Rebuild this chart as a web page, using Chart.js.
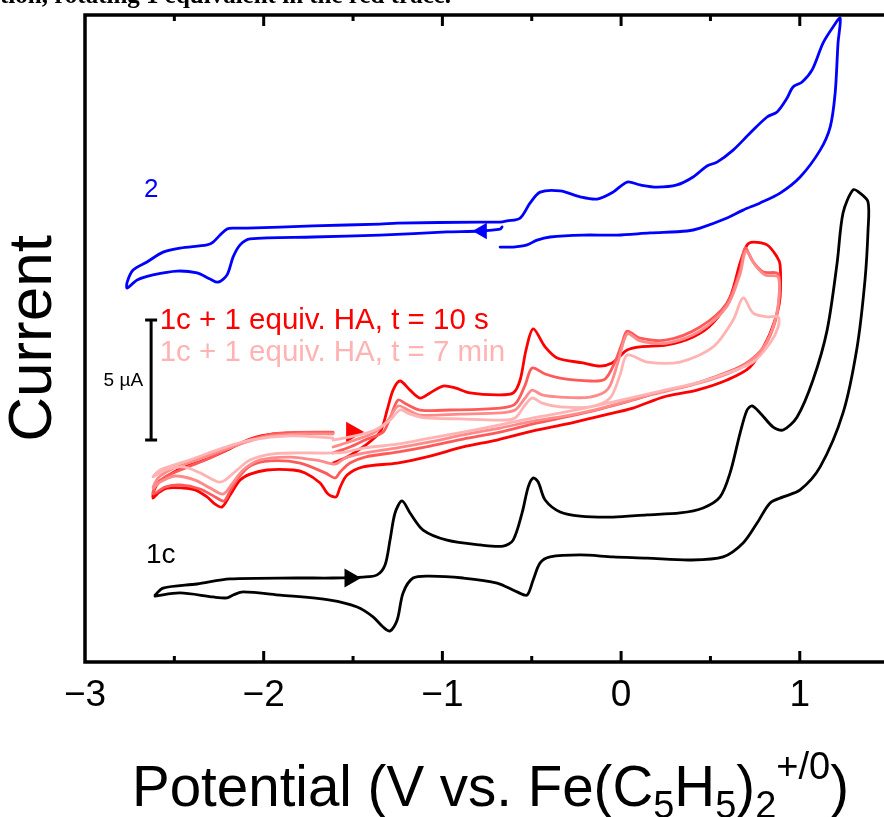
<!DOCTYPE html>
<html><head><meta charset="utf-8">
<script src="https://cdn.jsdelivr.net/npm/chart.js@4.4.1/dist/chart.umd.min.js"></script>
<style>
html,body{margin:0;padding:0;background:#fff;overflow:hidden;width:884px;height:817px;}
#wrap{position:absolute;left:0;top:0;width:920px;height:817px;}
#caption{position:absolute;left:0;top:-17px;font:bold 25px "Liberation Serif","Times New Roman",serif;line-height:24px;white-space:nowrap;color:#000;}
#xtitle{position:absolute;left:132px;top:759px;font:56.5px "Liberation Sans",Arial,sans-serif;line-height:56px;white-space:nowrap;color:#000;}
.sb{font-size:38px;position:relative;top:12px;line-height:0;}
.sp{font-size:38px;position:relative;top:-27px;line-height:0;}
</style></head>
<body>
<div id="wrap"><canvas id="c" width="920" height="817"></canvas></div>
<div id="caption">tion, rotating 1 equivalent in the red trace.</div>
<div id="xtitle">Potential (V vs. Fe(C<span class="sb">5</span>H<span class="sb">5</span>)<span class="sb">2</span><span class="sp">+/0</span>)</div>
<script>
// x: potential (V vs Fc+/0), y: current (µA, arbitrary offset per trace)
const xTickValues = [-3, -2, -1, 0, 1];
const xTickLabels = ["\u22123", "\u22122", "\u22121", "0", "1"];

const compound2 = [
[-0.666,18.13],[-0.677,18.04],[-0.789,17.96],[-0.974,17.92],[-1.349,17.79],[-1.724,17.71],[-2.076,17.63],[-2.132,17.38],[-2.171,16.88],[-2.205,16.13],[-2.255,15.83],[-2.300,15.96],[-2.373,16.21],[-2.485,16.29],[-2.619,16.13],[-2.708,15.92],[-2.764,15.58],[-2.764,15.83],[-2.731,16.33],[-2.653,16.67],[-2.563,17.08],[-2.468,17.25],[-2.317,17.38],[-2.283,17.50],[-2.244,17.79],[-2.205,18.04],[-2.171,18.08],[-2.093,18.08],[-1.724,18.17],[-1.349,18.25],[-1.253,18.29],[-0.789,18.33],[-0.677,18.33],[-0.638,18.38],[-0.565,18.50],[-0.509,19.13],[-0.453,19.58],[-0.341,19.63],[-0.229,19.38],[-0.134,19.29],[-0.045,19.58],[0.034,20.00],[0.106,19.88],[0.201,19.79],[0.313,19.88],[0.403,20.21],[0.481,20.67],[0.537,20.83],[0.627,21.33],[0.722,22.04],[0.817,22.71],[0.873,22.92],[0.929,23.50],[0.962,23.96],[1.013,24.17],[1.069,24.67],[1.130,25.79],[1.186,26.46],[1.226,26.83],[1.214,25.79],[1.198,23.71],[1.170,22.29],[1.114,21.33],[1.002,20.21],[0.890,19.54],[0.778,19.13],[0.683,18.83],[0.593,18.50],[0.442,18.08],[0.369,17.96],[0.162,17.88],[-0.022,17.79],[-0.213,17.79],[-0.397,17.71],[-0.470,17.58],[-0.526,17.38],[-0.604,17.29],[-0.677,17.29]
];

const compound1c = [
[-2.608,2.79],[-2.563,3.08],[-2.373,3.25],[-2.188,3.46],[-1.813,3.50],[-1.612,3.50],[-1.444,3.54],[-1.365,3.63],[-1.321,4.04],[-1.293,5.08],[-1.265,6.21],[-1.226,6.71],[-1.181,6.21],[-1.108,5.50],[-0.974,5.08],[-0.789,4.88],[-0.660,4.83],[-0.604,5.08],[-0.554,6.21],[-0.520,7.29],[-0.492,7.67],[-0.464,7.50],[-0.425,6.75],[-0.341,6.25],[-0.229,6.08],[-0.045,6.04],[0.145,6.13],[0.330,6.21],[0.459,6.42],[0.554,6.88],[0.610,7.88],[0.666,9.54],[0.705,10.50],[0.733,10.67],[0.778,10.38],[0.851,9.79],[0.907,9.67],[0.985,10.21],[1.074,11.75],[1.153,13.83],[1.209,16.63],[1.242,18.71],[1.298,19.67],[1.337,19.54],[1.382,19.17],[1.382,18.00],[1.365,15.92],[1.321,13.13],[1.242,10.38],[1.114,8.13],[1.002,7.17],[0.907,6.88],[0.834,6.63],[0.761,5.79],[0.683,4.96],[0.571,4.38],[0.386,4.25],[0.145,4.33],[-0.045,4.38],[-0.229,4.46],[-0.397,4.38],[-0.453,4.13],[-0.492,3.42],[-0.526,2.79],[-0.582,2.92],[-0.694,3.29],[-0.884,3.50],[-1.069,3.58],[-1.164,3.50],[-1.220,2.88],[-1.253,1.75],[-1.293,1.29],[-1.332,1.46],[-1.388,1.88],[-1.477,2.29],[-1.628,2.58],[-1.908,2.79],[-2.115,2.92],[-2.171,2.79],[-2.205,2.67],[-2.283,2.71],[-2.468,2.88],[-2.608,2.75]
];

// 1c + 1 equiv. HA, t = 10 s
const acid10s = [
[-1.612,8.29],[-1.533,8.54],[-1.444,8.96],[-1.349,9.58],[-1.309,10.50],[-1.276,11.33],[-1.237,11.71],[-1.181,11.33],[-1.125,11.00],[-1.069,11.21],[-0.996,11.50],[-0.929,11.42],[-0.845,11.21],[-0.694,11.13],[-0.604,11.21],[-0.565,11.75],[-0.532,13.00],[-0.492,13.88],[-0.425,13.13],[-0.358,12.67],[-0.213,12.46],[-0.118,12.33],[-0.050,12.46],[-0.006,12.75],[0.034,13.00],[0.106,13.13],[0.257,13.21],[0.403,13.54],[0.515,14.13],[0.610,15.21],[0.666,16.63],[0.705,17.38],[0.739,17.50],[0.817,17.38],[0.873,16.88],[0.890,16.54],[0.890,15.21],[0.873,14.54],[0.817,13.42],[0.722,12.29],[0.593,11.75],[0.425,11.33],[0.235,11.04],[0.067,10.58],[-0.118,10.25],[-0.302,9.92],[-0.492,9.63],[-0.694,9.25],[-0.884,8.96],[-1.069,8.58],[-1.253,8.29],[-1.444,8.13],[-1.533,7.79],[-1.572,7.29],[-1.595,6.88],[-1.640,7.00],[-1.684,7.46],[-1.768,7.88],[-1.835,8.00],[-1.981,8.00],[-2.076,7.83],[-2.132,7.58],[-2.188,6.96],[-2.233,6.46],[-2.272,6.58],[-2.317,6.88],[-2.384,7.17],[-2.451,7.25],[-2.541,7.25],[-2.591,7.04],[-2.619,6.83],[-2.613,7.17],[-2.580,7.54],[-2.524,7.83],[-2.457,8.08],[-2.317,8.46],[-2.205,8.83],[-2.076,9.29],[-1.947,9.50],[-1.796,9.54],[-1.612,9.54]
];
// intermediate scans
const acidScan2 = [
[-1.612,8.71],[-1.517,8.96],[-1.433,9.25],[-1.332,9.58],[-1.293,10.17],[-1.248,10.92],[-1.203,10.75],[-1.125,10.50],[-0.957,10.50],[-0.677,10.58],[-0.593,10.75],[-0.537,11.54],[-0.498,12.25],[-0.425,12.00],[-0.341,11.83],[-0.173,11.71],[-0.090,11.79],[-0.034,12.50],[0.006,13.29],[0.034,13.79],[0.106,13.50],[0.257,13.42],[0.442,13.96],[0.593,14.96],[0.666,16.33],[0.694,17.25],[0.739,16.67],[0.795,16.25],[0.879,16.17],[0.884,15.08],[0.862,14.17],[0.806,13.21],[0.694,12.42],[0.526,11.88],[0.386,11.54],[0.218,11.25],[0.050,10.88],[-0.118,10.54],[-0.308,10.21],[-0.492,9.92],[-0.677,9.58],[-0.884,9.29],[-1.069,9.00],[-1.253,8.75],[-1.433,8.54],[-1.517,8.29],[-1.572,7.92],[-1.600,7.67],[-1.656,7.88],[-1.796,8.29],[-1.964,8.38],[-2.076,8.17],[-2.143,7.67],[-2.188,7.13],[-2.222,6.71],[-2.272,6.88],[-2.356,7.21],[-2.468,7.38],[-2.552,7.29],[-2.619,7.00],[-2.602,7.38],[-2.552,7.71],[-2.440,8.08],[-2.300,8.50],[-2.177,8.96],[-2.048,9.33],[-1.908,9.54],[-1.612,9.58]
];
const acidScan3 = [
[-1.612,8.96],[-1.489,9.25],[-1.377,9.58],[-1.304,10.08],[-1.248,10.67],[-1.192,10.50],[-1.125,10.29],[-0.901,10.33],[-0.677,10.38],[-0.593,10.50],[-0.537,11.00],[-0.498,11.33],[-0.442,11.13],[-0.341,11.04],[-0.173,11.04],[-0.073,11.38],[-0.017,12.50],[0.034,13.67],[0.106,13.38],[0.257,13.29],[0.442,13.79],[0.593,14.83],[0.666,16.17],[0.699,17.13],[0.750,16.54],[0.806,16.13],[0.879,16.04],[0.879,14.88],[0.845,13.83],[0.778,12.92],[0.666,12.25],[0.498,11.75],[0.330,11.42],[0.162,11.13],[-0.006,10.79],[-0.173,10.46],[-0.341,10.21],[-0.492,10.04],[-0.677,9.75],[-0.884,9.46],[-1.069,9.17],[-1.253,8.92],[-1.433,8.71],[-1.544,8.50],[-1.600,8.25],[-1.684,8.38],[-1.852,8.54],[-2.020,8.42],[-2.115,8.00],[-2.177,7.42],[-2.227,7.00],[-2.300,7.25],[-2.384,7.58],[-2.496,7.75],[-2.580,7.50],[-2.619,7.25],[-2.591,7.67],[-2.524,8.00],[-2.412,8.33],[-2.272,8.71],[-2.132,9.08],[-1.992,9.38],[-1.796,9.50],[-1.612,9.50]
];
// 1c + 1 equiv. HA, t = 7 min
const acid7min = [
[-1.612,9.25],[-1.489,9.42],[-1.377,9.67],[-1.293,10.08],[-1.237,10.50],[-1.181,10.33],[-1.097,10.17],[-0.901,10.13],[-0.677,10.08],[-0.593,10.17],[-0.537,10.71],[-0.498,11.00],[-0.442,10.79],[-0.341,10.63],[-0.173,10.63],[-0.062,11.00],[-0.006,11.96],[0.034,12.79],[0.145,12.50],[0.330,12.50],[0.515,13.13],[0.627,14.25],[0.683,15.17],[0.739,14.54],[0.817,14.38],[0.879,14.38],[0.879,13.96],[0.834,13.29],[0.739,12.50],[0.593,12.04],[0.425,11.63],[0.246,11.33],[0.050,11.00],[-0.118,10.71],[-0.308,10.42],[-0.492,10.17],[-0.677,9.88],[-0.884,9.58],[-1.069,9.33],[-1.253,9.08],[-1.433,8.92],[-1.544,8.75],[-1.612,8.71],[-1.796,8.71],[-1.947,8.67],[-2.076,8.42],[-2.149,8.00],[-2.216,7.58],[-2.255,7.50],[-2.356,7.88],[-2.451,8.13],[-2.552,8.00],[-2.619,7.71],[-2.580,8.00],[-2.412,8.42],[-2.227,8.92],[-2.076,9.25],[-1.852,9.42],[-1.612,9.33]
];

// scan-direction arrows [V, µA]
const arrowAcid = [-1.505, 9.58];
const arrow2 = [-0.778, 17.96];
const arrow1c = [-1.517, 3.50];
// 5 µA scale bar
const scaleBarV = -2.63;
const scaleBarI = [9.25, 14.25];

const FONT = '"Liberation Sans", Arial, sans-serif';
const pts = arr => arr.map(p => ({x: p[0], y: p[1]}));

function curve(data, color, w) {
  return {data: pts(data), showLine: true, borderColor: color, borderWidth: w,
    pointRadius: 0, tension: 0.3, fill: false, borderJoinStyle: 'round', borderCapStyle: 'round'};
}
function arrow(p, color, r, rot) {
  return {data: [{x: p[0], y: p[1]}], showLine: false, pointStyle: 'triangle',
    pointRadius: r, rotation: rot, backgroundColor: color, borderColor: color, borderWidth: 0};
}

const annotations = [
  {t: '2', x: -2.63, y: 19.67, c: '#0000ff', s: 26, a: 'center'},
  {t: '1c', x: -2.576, y: 4.46, c: '#000000', s: 28, a: 'center'},
  {t: '1c + 1 equiv. HA, t = 10 s', x: -2.582, y: 14.21, c: '#ff0000', s: 29.5, a: 'left'},
  {t: '1c + 1 equiv. HA, t = 7 min', x: -2.582, y: 12.88, c: '#ffb3b3', s: 29.5, a: 'left'},
  {t: '5 \u00b5A', x: -2.675, y: 11.71, c: '#000000', s: 19, a: 'right'}
];

const framePlugin = {
  id: 'frame',
  afterDraw(chart) {
    const {ctx, chartArea: a, scales: {x, y}} = chart;
    ctx.save();
    ctx.strokeStyle = '#000';
    ctx.lineWidth = 3.5;
    ctx.lineCap = 'butt';
    ctx.beginPath();
    ctx.moveTo(a.right + 10, a.top);
    ctx.lineTo(a.left, a.top);
    ctx.lineTo(a.left, a.bottom);
    ctx.lineTo(a.right + 10, a.bottom);
    ctx.stroke();
    ctx.lineWidth = 3;
    for (let v = -2.5; v <= 1.51; v += 0.5) {
      const px = x.getPixelForValue(v);
      const len = Math.abs(v - Math.round(v)) < 1e-6 ? 11 : 6;
      ctx.beginPath();
      ctx.moveTo(px, a.bottom); ctx.lineTo(px, a.bottom - len);
      ctx.moveTo(px, a.top); ctx.lineTo(px, a.top + len);
      ctx.stroke();
    }
    ctx.textBaseline = 'middle';
    for (const l of annotations) {
      ctx.font = l.s + 'px ' + FONT;
      ctx.fillStyle = l.c;
      ctx.textAlign = l.a;
      ctx.fillText(l.t, x.getPixelForValue(l.x), y.getPixelForValue(l.y));
    }
    ctx.restore();
  }
};

new Chart(document.getElementById('c'), {
  type: 'scatter',
  data: {datasets: [
    curve(acid7min, '#ffb3b3', 2.8),
    curve(acidScan3, '#ff8a8a', 2.8),
    curve(acidScan2, '#ff5a5a', 2.8),
    curve(acid10s, '#ff0000', 2.8),
    curve(compound2, '#0000ff', 2.8),
    curve(compound1c, '#000000', 2.8),
    arrow(arrowAcid, '#ff0000', 12, 90),
    arrow(arrow2, '#0000ff', 9.5, 270),
    arrow(arrow1c, '#000000', 11, 90),
    {data: scaleBarI.map(v => ({x: scaleBarV, y: v})), showLine: true, borderColor: '#000', borderWidth: 3,
     pointStyle: 'line', pointRadius: 6, pointBorderWidth: 3, pointBorderColor: '#000', rotation: 0}
  ]},
  options: {
    responsive: false, animation: false, devicePixelRatio: 1,
    layout: {padding: {left: 0, top: 15, right: 13, bottom: 0}},
    plugins: {legend: {display: false}, tooltip: {enabled: false}},
    scales: {
      x: {type: 'linear', min: -3, max: 1.6,
        afterFit(s) { s.height = 155; },
        afterBuildTicks(s) { s.ticks = xTickValues.map(v => ({value: v})); },
        grid: {display: false, drawTicks: false}, border: {display: false},
        ticks: {padding: 12, color: '#000', font: {family: FONT, size: 37},
          callback: v => xTickLabels[xTickValues.indexOf(v)] ?? ''}},
      y: {type: 'linear', min: 0, max: 26.96,
        afterFit(s) { s.width = 85; },
        grid: {display: false}, border: {display: false}, ticks: {display: false},
        title: {display: true, text: 'Current', color: '#000', padding: 0,
          font: {family: FONT, size: 62, lineHeight: 1.1}}}
    }
  },
  plugins: [framePlugin]
});
</script>
</body></html>
